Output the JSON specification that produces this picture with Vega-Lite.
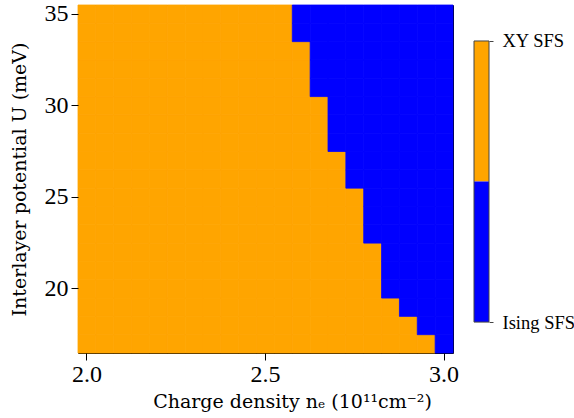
{
"$schema": "https://vega.github.io/schema/vega-lite/v6.json",
"background": "white",
"padding": {"left": 9, "top": 1, "right": 5, "bottom": 5},
"config": {"view": {"stroke": null}, "font": "Liberation Serif"},
"spacing": 13,
"hconcat": [
{
"width": 375, "height": 348,
"view": {"stroke": "black", "strokeWidth": 1},
"data": {"values": [
{"n":2.0,"U":17,"p":"XY SFS"},{"n":2.0,"U":18,"p":"XY SFS"},{"n":2.0,"U":19,"p":"XY SFS"},{"n":2.0,"U":20,"p":"XY SFS"},{"n":2.0,"U":21,"p":"XY SFS"},{"n":2.0,"U":22,"p":"XY SFS"},{"n":2.0,"U":23,"p":"XY SFS"},{"n":2.0,"U":24,"p":"XY SFS"},{"n":2.0,"U":25,"p":"XY SFS"},{"n":2.0,"U":26,"p":"XY SFS"},{"n":2.0,"U":27,"p":"XY SFS"},{"n":2.0,"U":28,"p":"XY SFS"},{"n":2.0,"U":29,"p":"XY SFS"},{"n":2.0,"U":30,"p":"XY SFS"},{"n":2.0,"U":31,"p":"XY SFS"},{"n":2.0,"U":32,"p":"XY SFS"},{"n":2.0,"U":33,"p":"XY SFS"},{"n":2.0,"U":34,"p":"XY SFS"},{"n":2.0,"U":35,"p":"XY SFS"},
{"n":2.05,"U":17,"p":"XY SFS"},{"n":2.05,"U":18,"p":"XY SFS"},{"n":2.05,"U":19,"p":"XY SFS"},{"n":2.05,"U":20,"p":"XY SFS"},{"n":2.05,"U":21,"p":"XY SFS"},{"n":2.05,"U":22,"p":"XY SFS"},{"n":2.05,"U":23,"p":"XY SFS"},{"n":2.05,"U":24,"p":"XY SFS"},{"n":2.05,"U":25,"p":"XY SFS"},{"n":2.05,"U":26,"p":"XY SFS"},{"n":2.05,"U":27,"p":"XY SFS"},{"n":2.05,"U":28,"p":"XY SFS"},{"n":2.05,"U":29,"p":"XY SFS"},{"n":2.05,"U":30,"p":"XY SFS"},{"n":2.05,"U":31,"p":"XY SFS"},{"n":2.05,"U":32,"p":"XY SFS"},{"n":2.05,"U":33,"p":"XY SFS"},{"n":2.05,"U":34,"p":"XY SFS"},{"n":2.05,"U":35,"p":"XY SFS"},
{"n":2.1,"U":17,"p":"XY SFS"},{"n":2.1,"U":18,"p":"XY SFS"},{"n":2.1,"U":19,"p":"XY SFS"},{"n":2.1,"U":20,"p":"XY SFS"},{"n":2.1,"U":21,"p":"XY SFS"},{"n":2.1,"U":22,"p":"XY SFS"},{"n":2.1,"U":23,"p":"XY SFS"},{"n":2.1,"U":24,"p":"XY SFS"},{"n":2.1,"U":25,"p":"XY SFS"},{"n":2.1,"U":26,"p":"XY SFS"},{"n":2.1,"U":27,"p":"XY SFS"},{"n":2.1,"U":28,"p":"XY SFS"},{"n":2.1,"U":29,"p":"XY SFS"},{"n":2.1,"U":30,"p":"XY SFS"},{"n":2.1,"U":31,"p":"XY SFS"},{"n":2.1,"U":32,"p":"XY SFS"},{"n":2.1,"U":33,"p":"XY SFS"},{"n":2.1,"U":34,"p":"XY SFS"},{"n":2.1,"U":35,"p":"XY SFS"},
{"n":2.15,"U":17,"p":"XY SFS"},{"n":2.15,"U":18,"p":"XY SFS"},{"n":2.15,"U":19,"p":"XY SFS"},{"n":2.15,"U":20,"p":"XY SFS"},{"n":2.15,"U":21,"p":"XY SFS"},{"n":2.15,"U":22,"p":"XY SFS"},{"n":2.15,"U":23,"p":"XY SFS"},{"n":2.15,"U":24,"p":"XY SFS"},{"n":2.15,"U":25,"p":"XY SFS"},{"n":2.15,"U":26,"p":"XY SFS"},{"n":2.15,"U":27,"p":"XY SFS"},{"n":2.15,"U":28,"p":"XY SFS"},{"n":2.15,"U":29,"p":"XY SFS"},{"n":2.15,"U":30,"p":"XY SFS"},{"n":2.15,"U":31,"p":"XY SFS"},{"n":2.15,"U":32,"p":"XY SFS"},{"n":2.15,"U":33,"p":"XY SFS"},{"n":2.15,"U":34,"p":"XY SFS"},{"n":2.15,"U":35,"p":"XY SFS"},
{"n":2.2,"U":17,"p":"XY SFS"},{"n":2.2,"U":18,"p":"XY SFS"},{"n":2.2,"U":19,"p":"XY SFS"},{"n":2.2,"U":20,"p":"XY SFS"},{"n":2.2,"U":21,"p":"XY SFS"},{"n":2.2,"U":22,"p":"XY SFS"},{"n":2.2,"U":23,"p":"XY SFS"},{"n":2.2,"U":24,"p":"XY SFS"},{"n":2.2,"U":25,"p":"XY SFS"},{"n":2.2,"U":26,"p":"XY SFS"},{"n":2.2,"U":27,"p":"XY SFS"},{"n":2.2,"U":28,"p":"XY SFS"},{"n":2.2,"U":29,"p":"XY SFS"},{"n":2.2,"U":30,"p":"XY SFS"},{"n":2.2,"U":31,"p":"XY SFS"},{"n":2.2,"U":32,"p":"XY SFS"},{"n":2.2,"U":33,"p":"XY SFS"},{"n":2.2,"U":34,"p":"XY SFS"},{"n":2.2,"U":35,"p":"XY SFS"},
{"n":2.25,"U":17,"p":"XY SFS"},{"n":2.25,"U":18,"p":"XY SFS"},{"n":2.25,"U":19,"p":"XY SFS"},{"n":2.25,"U":20,"p":"XY SFS"},{"n":2.25,"U":21,"p":"XY SFS"},{"n":2.25,"U":22,"p":"XY SFS"},{"n":2.25,"U":23,"p":"XY SFS"},{"n":2.25,"U":24,"p":"XY SFS"},{"n":2.25,"U":25,"p":"XY SFS"},{"n":2.25,"U":26,"p":"XY SFS"},{"n":2.25,"U":27,"p":"XY SFS"},{"n":2.25,"U":28,"p":"XY SFS"},{"n":2.25,"U":29,"p":"XY SFS"},{"n":2.25,"U":30,"p":"XY SFS"},{"n":2.25,"U":31,"p":"XY SFS"},{"n":2.25,"U":32,"p":"XY SFS"},{"n":2.25,"U":33,"p":"XY SFS"},{"n":2.25,"U":34,"p":"XY SFS"},{"n":2.25,"U":35,"p":"XY SFS"},
{"n":2.3,"U":17,"p":"XY SFS"},{"n":2.3,"U":18,"p":"XY SFS"},{"n":2.3,"U":19,"p":"XY SFS"},{"n":2.3,"U":20,"p":"XY SFS"},{"n":2.3,"U":21,"p":"XY SFS"},{"n":2.3,"U":22,"p":"XY SFS"},{"n":2.3,"U":23,"p":"XY SFS"},{"n":2.3,"U":24,"p":"XY SFS"},{"n":2.3,"U":25,"p":"XY SFS"},{"n":2.3,"U":26,"p":"XY SFS"},{"n":2.3,"U":27,"p":"XY SFS"},{"n":2.3,"U":28,"p":"XY SFS"},{"n":2.3,"U":29,"p":"XY SFS"},{"n":2.3,"U":30,"p":"XY SFS"},{"n":2.3,"U":31,"p":"XY SFS"},{"n":2.3,"U":32,"p":"XY SFS"},{"n":2.3,"U":33,"p":"XY SFS"},{"n":2.3,"U":34,"p":"XY SFS"},{"n":2.3,"U":35,"p":"XY SFS"},
{"n":2.35,"U":17,"p":"XY SFS"},{"n":2.35,"U":18,"p":"XY SFS"},{"n":2.35,"U":19,"p":"XY SFS"},{"n":2.35,"U":20,"p":"XY SFS"},{"n":2.35,"U":21,"p":"XY SFS"},{"n":2.35,"U":22,"p":"XY SFS"},{"n":2.35,"U":23,"p":"XY SFS"},{"n":2.35,"U":24,"p":"XY SFS"},{"n":2.35,"U":25,"p":"XY SFS"},{"n":2.35,"U":26,"p":"XY SFS"},{"n":2.35,"U":27,"p":"XY SFS"},{"n":2.35,"U":28,"p":"XY SFS"},{"n":2.35,"U":29,"p":"XY SFS"},{"n":2.35,"U":30,"p":"XY SFS"},{"n":2.35,"U":31,"p":"XY SFS"},{"n":2.35,"U":32,"p":"XY SFS"},{"n":2.35,"U":33,"p":"XY SFS"},{"n":2.35,"U":34,"p":"XY SFS"},{"n":2.35,"U":35,"p":"XY SFS"},
{"n":2.4,"U":17,"p":"XY SFS"},{"n":2.4,"U":18,"p":"XY SFS"},{"n":2.4,"U":19,"p":"XY SFS"},{"n":2.4,"U":20,"p":"XY SFS"},{"n":2.4,"U":21,"p":"XY SFS"},{"n":2.4,"U":22,"p":"XY SFS"},{"n":2.4,"U":23,"p":"XY SFS"},{"n":2.4,"U":24,"p":"XY SFS"},{"n":2.4,"U":25,"p":"XY SFS"},{"n":2.4,"U":26,"p":"XY SFS"},{"n":2.4,"U":27,"p":"XY SFS"},{"n":2.4,"U":28,"p":"XY SFS"},{"n":2.4,"U":29,"p":"XY SFS"},{"n":2.4,"U":30,"p":"XY SFS"},{"n":2.4,"U":31,"p":"XY SFS"},{"n":2.4,"U":32,"p":"XY SFS"},{"n":2.4,"U":33,"p":"XY SFS"},{"n":2.4,"U":34,"p":"XY SFS"},{"n":2.4,"U":35,"p":"XY SFS"},
{"n":2.45,"U":17,"p":"XY SFS"},{"n":2.45,"U":18,"p":"XY SFS"},{"n":2.45,"U":19,"p":"XY SFS"},{"n":2.45,"U":20,"p":"XY SFS"},{"n":2.45,"U":21,"p":"XY SFS"},{"n":2.45,"U":22,"p":"XY SFS"},{"n":2.45,"U":23,"p":"XY SFS"},{"n":2.45,"U":24,"p":"XY SFS"},{"n":2.45,"U":25,"p":"XY SFS"},{"n":2.45,"U":26,"p":"XY SFS"},{"n":2.45,"U":27,"p":"XY SFS"},{"n":2.45,"U":28,"p":"XY SFS"},{"n":2.45,"U":29,"p":"XY SFS"},{"n":2.45,"U":30,"p":"XY SFS"},{"n":2.45,"U":31,"p":"XY SFS"},{"n":2.45,"U":32,"p":"XY SFS"},{"n":2.45,"U":33,"p":"XY SFS"},{"n":2.45,"U":34,"p":"XY SFS"},{"n":2.45,"U":35,"p":"XY SFS"},
{"n":2.5,"U":17,"p":"XY SFS"},{"n":2.5,"U":18,"p":"XY SFS"},{"n":2.5,"U":19,"p":"XY SFS"},{"n":2.5,"U":20,"p":"XY SFS"},{"n":2.5,"U":21,"p":"XY SFS"},{"n":2.5,"U":22,"p":"XY SFS"},{"n":2.5,"U":23,"p":"XY SFS"},{"n":2.5,"U":24,"p":"XY SFS"},{"n":2.5,"U":25,"p":"XY SFS"},{"n":2.5,"U":26,"p":"XY SFS"},{"n":2.5,"U":27,"p":"XY SFS"},{"n":2.5,"U":28,"p":"XY SFS"},{"n":2.5,"U":29,"p":"XY SFS"},{"n":2.5,"U":30,"p":"XY SFS"},{"n":2.5,"U":31,"p":"XY SFS"},{"n":2.5,"U":32,"p":"XY SFS"},{"n":2.5,"U":33,"p":"XY SFS"},{"n":2.5,"U":34,"p":"XY SFS"},{"n":2.5,"U":35,"p":"XY SFS"},
{"n":2.55,"U":17,"p":"XY SFS"},{"n":2.55,"U":18,"p":"XY SFS"},{"n":2.55,"U":19,"p":"XY SFS"},{"n":2.55,"U":20,"p":"XY SFS"},{"n":2.55,"U":21,"p":"XY SFS"},{"n":2.55,"U":22,"p":"XY SFS"},{"n":2.55,"U":23,"p":"XY SFS"},{"n":2.55,"U":24,"p":"XY SFS"},{"n":2.55,"U":25,"p":"XY SFS"},{"n":2.55,"U":26,"p":"XY SFS"},{"n":2.55,"U":27,"p":"XY SFS"},{"n":2.55,"U":28,"p":"XY SFS"},{"n":2.55,"U":29,"p":"XY SFS"},{"n":2.55,"U":30,"p":"XY SFS"},{"n":2.55,"U":31,"p":"XY SFS"},{"n":2.55,"U":32,"p":"XY SFS"},{"n":2.55,"U":33,"p":"XY SFS"},{"n":2.55,"U":34,"p":"XY SFS"},{"n":2.55,"U":35,"p":"XY SFS"},
{"n":2.6,"U":17,"p":"XY SFS"},{"n":2.6,"U":18,"p":"XY SFS"},{"n":2.6,"U":19,"p":"XY SFS"},{"n":2.6,"U":20,"p":"XY SFS"},{"n":2.6,"U":21,"p":"XY SFS"},{"n":2.6,"U":22,"p":"XY SFS"},{"n":2.6,"U":23,"p":"XY SFS"},{"n":2.6,"U":24,"p":"XY SFS"},{"n":2.6,"U":25,"p":"XY SFS"},{"n":2.6,"U":26,"p":"XY SFS"},{"n":2.6,"U":27,"p":"XY SFS"},{"n":2.6,"U":28,"p":"XY SFS"},{"n":2.6,"U":29,"p":"XY SFS"},{"n":2.6,"U":30,"p":"XY SFS"},{"n":2.6,"U":31,"p":"XY SFS"},{"n":2.6,"U":32,"p":"XY SFS"},{"n":2.6,"U":33,"p":"XY SFS"},{"n":2.6,"U":34,"p":"Ising SFS"},{"n":2.6,"U":35,"p":"Ising SFS"},
{"n":2.65,"U":17,"p":"XY SFS"},{"n":2.65,"U":18,"p":"XY SFS"},{"n":2.65,"U":19,"p":"XY SFS"},{"n":2.65,"U":20,"p":"XY SFS"},{"n":2.65,"U":21,"p":"XY SFS"},{"n":2.65,"U":22,"p":"XY SFS"},{"n":2.65,"U":23,"p":"XY SFS"},{"n":2.65,"U":24,"p":"XY SFS"},{"n":2.65,"U":25,"p":"XY SFS"},{"n":2.65,"U":26,"p":"XY SFS"},{"n":2.65,"U":27,"p":"XY SFS"},{"n":2.65,"U":28,"p":"XY SFS"},{"n":2.65,"U":29,"p":"XY SFS"},{"n":2.65,"U":30,"p":"XY SFS"},{"n":2.65,"U":31,"p":"Ising SFS"},{"n":2.65,"U":32,"p":"Ising SFS"},{"n":2.65,"U":33,"p":"Ising SFS"},{"n":2.65,"U":34,"p":"Ising SFS"},{"n":2.65,"U":35,"p":"Ising SFS"},
{"n":2.7,"U":17,"p":"XY SFS"},{"n":2.7,"U":18,"p":"XY SFS"},{"n":2.7,"U":19,"p":"XY SFS"},{"n":2.7,"U":20,"p":"XY SFS"},{"n":2.7,"U":21,"p":"XY SFS"},{"n":2.7,"U":22,"p":"XY SFS"},{"n":2.7,"U":23,"p":"XY SFS"},{"n":2.7,"U":24,"p":"XY SFS"},{"n":2.7,"U":25,"p":"XY SFS"},{"n":2.7,"U":26,"p":"XY SFS"},{"n":2.7,"U":27,"p":"XY SFS"},{"n":2.7,"U":28,"p":"Ising SFS"},{"n":2.7,"U":29,"p":"Ising SFS"},{"n":2.7,"U":30,"p":"Ising SFS"},{"n":2.7,"U":31,"p":"Ising SFS"},{"n":2.7,"U":32,"p":"Ising SFS"},{"n":2.7,"U":33,"p":"Ising SFS"},{"n":2.7,"U":34,"p":"Ising SFS"},{"n":2.7,"U":35,"p":"Ising SFS"},
{"n":2.75,"U":17,"p":"XY SFS"},{"n":2.75,"U":18,"p":"XY SFS"},{"n":2.75,"U":19,"p":"XY SFS"},{"n":2.75,"U":20,"p":"XY SFS"},{"n":2.75,"U":21,"p":"XY SFS"},{"n":2.75,"U":22,"p":"XY SFS"},{"n":2.75,"U":23,"p":"XY SFS"},{"n":2.75,"U":24,"p":"XY SFS"},{"n":2.75,"U":25,"p":"XY SFS"},{"n":2.75,"U":26,"p":"Ising SFS"},{"n":2.75,"U":27,"p":"Ising SFS"},{"n":2.75,"U":28,"p":"Ising SFS"},{"n":2.75,"U":29,"p":"Ising SFS"},{"n":2.75,"U":30,"p":"Ising SFS"},{"n":2.75,"U":31,"p":"Ising SFS"},{"n":2.75,"U":32,"p":"Ising SFS"},{"n":2.75,"U":33,"p":"Ising SFS"},{"n":2.75,"U":34,"p":"Ising SFS"},{"n":2.75,"U":35,"p":"Ising SFS"},
{"n":2.8,"U":17,"p":"XY SFS"},{"n":2.8,"U":18,"p":"XY SFS"},{"n":2.8,"U":19,"p":"XY SFS"},{"n":2.8,"U":20,"p":"XY SFS"},{"n":2.8,"U":21,"p":"XY SFS"},{"n":2.8,"U":22,"p":"XY SFS"},{"n":2.8,"U":23,"p":"Ising SFS"},{"n":2.8,"U":24,"p":"Ising SFS"},{"n":2.8,"U":25,"p":"Ising SFS"},{"n":2.8,"U":26,"p":"Ising SFS"},{"n":2.8,"U":27,"p":"Ising SFS"},{"n":2.8,"U":28,"p":"Ising SFS"},{"n":2.8,"U":29,"p":"Ising SFS"},{"n":2.8,"U":30,"p":"Ising SFS"},{"n":2.8,"U":31,"p":"Ising SFS"},{"n":2.8,"U":32,"p":"Ising SFS"},{"n":2.8,"U":33,"p":"Ising SFS"},{"n":2.8,"U":34,"p":"Ising SFS"},{"n":2.8,"U":35,"p":"Ising SFS"},
{"n":2.85,"U":17,"p":"XY SFS"},{"n":2.85,"U":18,"p":"XY SFS"},{"n":2.85,"U":19,"p":"XY SFS"},{"n":2.85,"U":20,"p":"Ising SFS"},{"n":2.85,"U":21,"p":"Ising SFS"},{"n":2.85,"U":22,"p":"Ising SFS"},{"n":2.85,"U":23,"p":"Ising SFS"},{"n":2.85,"U":24,"p":"Ising SFS"},{"n":2.85,"U":25,"p":"Ising SFS"},{"n":2.85,"U":26,"p":"Ising SFS"},{"n":2.85,"U":27,"p":"Ising SFS"},{"n":2.85,"U":28,"p":"Ising SFS"},{"n":2.85,"U":29,"p":"Ising SFS"},{"n":2.85,"U":30,"p":"Ising SFS"},{"n":2.85,"U":31,"p":"Ising SFS"},{"n":2.85,"U":32,"p":"Ising SFS"},{"n":2.85,"U":33,"p":"Ising SFS"},{"n":2.85,"U":34,"p":"Ising SFS"},{"n":2.85,"U":35,"p":"Ising SFS"},
{"n":2.9,"U":17,"p":"XY SFS"},{"n":2.9,"U":18,"p":"XY SFS"},{"n":2.9,"U":19,"p":"Ising SFS"},{"n":2.9,"U":20,"p":"Ising SFS"},{"n":2.9,"U":21,"p":"Ising SFS"},{"n":2.9,"U":22,"p":"Ising SFS"},{"n":2.9,"U":23,"p":"Ising SFS"},{"n":2.9,"U":24,"p":"Ising SFS"},{"n":2.9,"U":25,"p":"Ising SFS"},{"n":2.9,"U":26,"p":"Ising SFS"},{"n":2.9,"U":27,"p":"Ising SFS"},{"n":2.9,"U":28,"p":"Ising SFS"},{"n":2.9,"U":29,"p":"Ising SFS"},{"n":2.9,"U":30,"p":"Ising SFS"},{"n":2.9,"U":31,"p":"Ising SFS"},{"n":2.9,"U":32,"p":"Ising SFS"},{"n":2.9,"U":33,"p":"Ising SFS"},{"n":2.9,"U":34,"p":"Ising SFS"},{"n":2.9,"U":35,"p":"Ising SFS"},
{"n":2.95,"U":17,"p":"XY SFS"},{"n":2.95,"U":18,"p":"Ising SFS"},{"n":2.95,"U":19,"p":"Ising SFS"},{"n":2.95,"U":20,"p":"Ising SFS"},{"n":2.95,"U":21,"p":"Ising SFS"},{"n":2.95,"U":22,"p":"Ising SFS"},{"n":2.95,"U":23,"p":"Ising SFS"},{"n":2.95,"U":24,"p":"Ising SFS"},{"n":2.95,"U":25,"p":"Ising SFS"},{"n":2.95,"U":26,"p":"Ising SFS"},{"n":2.95,"U":27,"p":"Ising SFS"},{"n":2.95,"U":28,"p":"Ising SFS"},{"n":2.95,"U":29,"p":"Ising SFS"},{"n":2.95,"U":30,"p":"Ising SFS"},{"n":2.95,"U":31,"p":"Ising SFS"},{"n":2.95,"U":32,"p":"Ising SFS"},{"n":2.95,"U":33,"p":"Ising SFS"},{"n":2.95,"U":34,"p":"Ising SFS"},{"n":2.95,"U":35,"p":"Ising SFS"},
{"n":3.0,"U":17,"p":"Ising SFS"},{"n":3.0,"U":18,"p":"Ising SFS"},{"n":3.0,"U":19,"p":"Ising SFS"},{"n":3.0,"U":20,"p":"Ising SFS"},{"n":3.0,"U":21,"p":"Ising SFS"},{"n":3.0,"U":22,"p":"Ising SFS"},{"n":3.0,"U":23,"p":"Ising SFS"},{"n":3.0,"U":24,"p":"Ising SFS"},{"n":3.0,"U":25,"p":"Ising SFS"},{"n":3.0,"U":26,"p":"Ising SFS"},{"n":3.0,"U":27,"p":"Ising SFS"},{"n":3.0,"U":28,"p":"Ising SFS"},{"n":3.0,"U":29,"p":"Ising SFS"},{"n":3.0,"U":30,"p":"Ising SFS"},{"n":3.0,"U":31,"p":"Ising SFS"},{"n":3.0,"U":32,"p":"Ising SFS"},{"n":3.0,"U":33,"p":"Ising SFS"},{"n":3.0,"U":34,"p":"Ising SFS"},{"n":3.0,"U":35,"p":"Ising SFS"}
]},
"mark": {"type": "rect", "strokeWidth": 0.8},
"encoding": {
"x": {"field": "n", "type": "ordinal", "scale": {"paddingInner": 0, "paddingOuter": 0},
"axis": {"values": [2, 2.5, 3], "labelExpr": "format(datum.value, '.1f')", "labelAngle": 0, "domain": false, "grid": false, "tickSize": 7, "tickColor": "black", "labelFontSize": 24, "labelColor": "black", "labelPadding": 2, "title": "Charge density nₑ (10¹¹cm⁻²)", "titleFont": "DejaVu Serif", "titleFontSize": 19, "titleFontWeight": "normal", "titleColor": "black", "titlePadding": 6, "titleX": 214}},
"y": {"field": "U", "type": "ordinal", "sort": "descending", "scale": {"paddingInner": 0, "paddingOuter": 0},
"axis": {"values": [20, 25, 30, 35], "domain": false, "grid": false, "tickSize": 7, "tickColor": "black", "labelFontSize": 24, "labelColor": "black", "labelPadding": 3, "title": "Interlayer potential U (meV)", "titleFont": "DejaVu Serif", "titleFontSize": 19, "titleFontWeight": "normal", "titleColor": "black", "titlePadding": 15}},
"color": {"field": "p", "type": "nominal", "scale": {"domain": ["XY SFS", "Ising SFS"], "range": ["#FFA500", "#0000FF"]}, "legend": null},
"stroke": {"field": "p", "type": "nominal", "scale": {"domain": ["XY SFS", "Ising SFS"], "range": ["#FFA500", "#0000FF"]}, "legend": null}
}
},
{
"width": 15, "height": 348,
"layer": [
{
"data": {"values": [{"p": "XY SFS", "lo": 0.5, "hi": 1}, {"p": "Ising SFS", "lo": 0, "hi": 0.5}]},
"mark": {"type": "rect"},
"encoding": {
"y": {"field": "lo", "type": "quantitative", "scale": {"domain": [-0.11, 1.128], "nice": false, "zero": false},
"axis": {"orient": "right", "values": [0, 1], "labelExpr": "datum.value == 1 ? 'XY SFS' : 'Ising SFS'", "domain": false, "grid": false, "tickSize": 4, "tickColor": "#444", "labelFontSize": 18.5, "labelColor": "black", "labelPadding": 9, "title": null}},
"y2": {"field": "hi"},
"color": {"field": "p", "type": "nominal", "scale": {"domain": ["XY SFS", "Ising SFS"], "range": ["#FFA500", "#0000FF"]}, "legend": null}
}
},
{
"data": {"values": [{"lo": 0, "hi": 1}]},
"mark": {"type": "rect", "filled": false, "stroke": "#444", "strokeWidth": 1},
"encoding": {
"y": {"field": "lo", "type": "quantitative"},
"y2": {"field": "hi"}
}
}
]
}
]
}
